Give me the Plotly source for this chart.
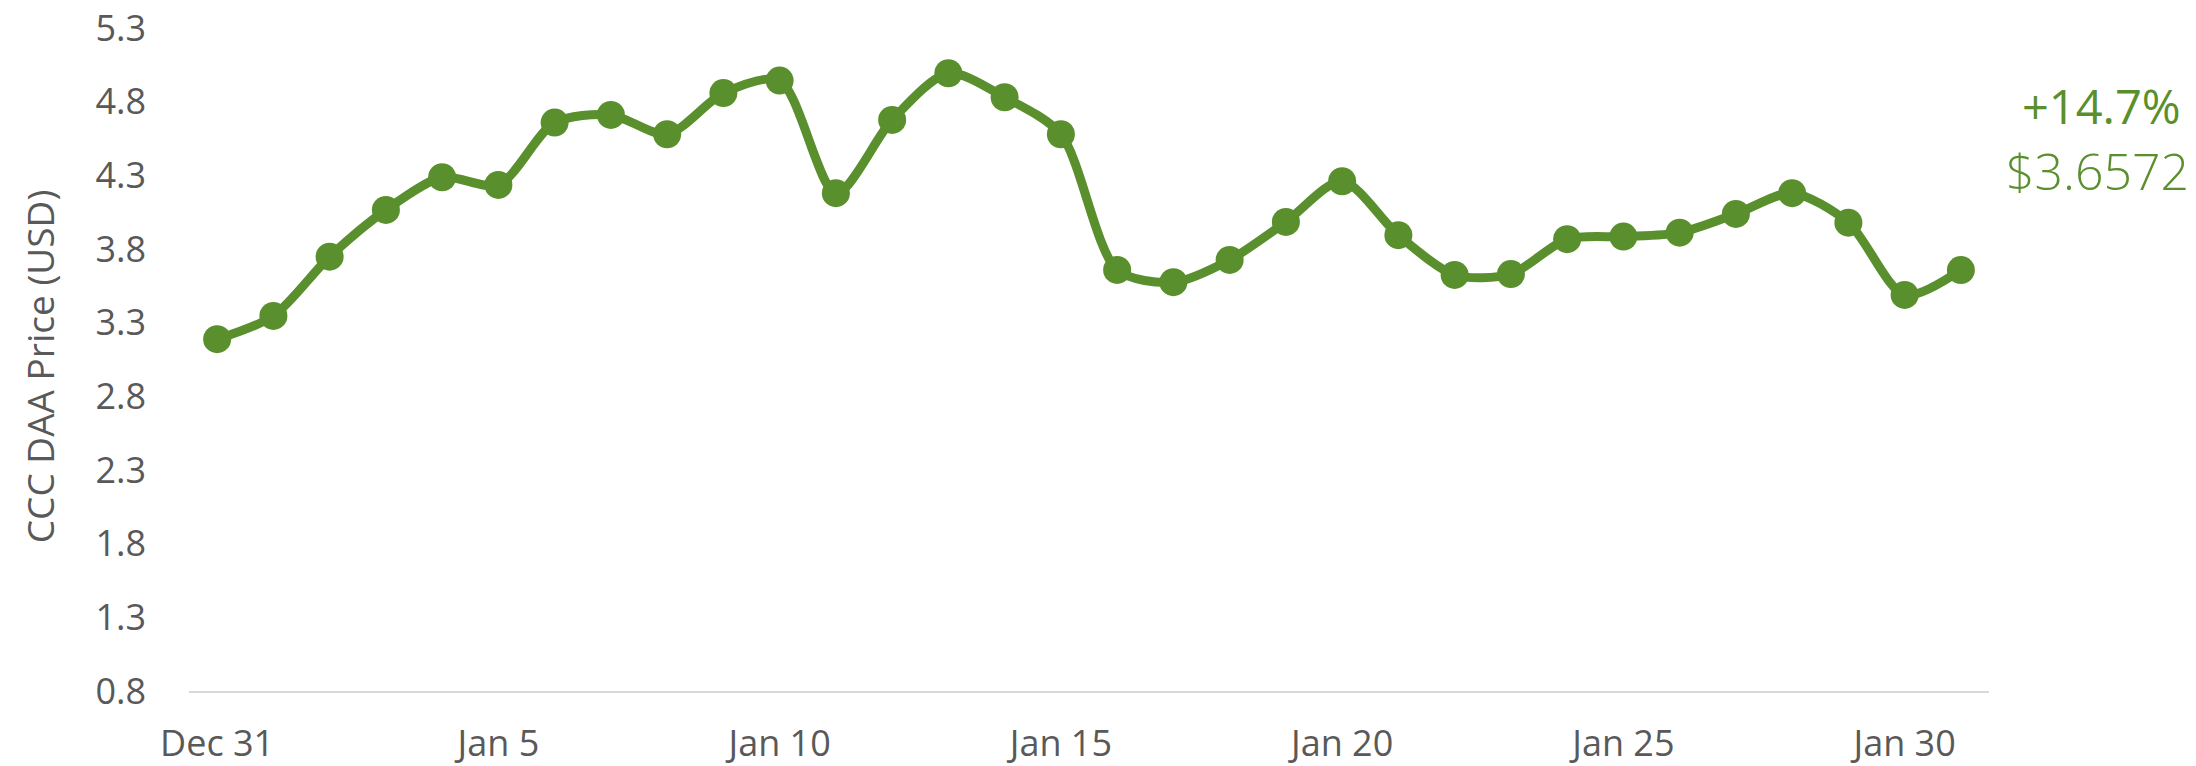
import plotly.graph_objects as go
import pandas as pd

dates = pd.date_range("2024-12-31", "2025-01-31", freq="D")
prices = [3.188, 3.346, 3.748, 4.065, 4.287, 4.235, 4.658, 4.710, 4.579, 4.858,
          4.943, 4.179, 4.676, 4.993, 4.830, 4.579, 3.658, 3.575, 3.726, 3.984,
          4.260, 3.894, 3.624, 3.630, 3.867, 3.884, 3.911, 4.038, 4.179, 3.979,
          3.488, 3.6572]
tick_dates = ["2024-12-31", "2025-01-05", "2025-01-10", "2025-01-15",
              "2025-01-20", "2025-01-25", "2025-01-30"]
tick_labels = ["Dec 31", "Jan 5", "Jan 10", "Jan 15", "Jan 20", "Jan 25", "Jan 30"]
y_ticks = [0.8, 1.3, 1.8, 2.3, 2.8, 3.3, 3.8, 4.3, 4.8, 5.3]
y_title = "CCC DAA Price (USD)"
change_text = "+14.7%"
price_text = "$3.6572"

GREEN = "#5A8F2D"
GREY = "#595959"
FONT = "Open Sans, Noto Sans, sans-serif"

fig = go.Figure()
fig.add_trace(go.Scatter(
    x=dates, y=prices, mode="lines+markers",
    line=dict(color=GREEN, width=9, shape="spline", smoothing=0.8),
    marker=dict(color=GREEN, size=28),
    hoverinfo="skip", showlegend=False,
))

fig.update_layout(
    width=2196, height=766,
    margin=dict(l=189, r=207, t=28, b=75),
    plot_bgcolor="white", paper_bgcolor="white",
    font=dict(family=FONT, color=GREY, size=36),
    xaxis=dict(
        range=["2024-12-30 12:00", "2025-01-31 12:00"],
        tickvals=tick_dates, ticktext=tick_labels,
        showgrid=False, zeroline=False, automargin=False,
        showline=True, linecolor="#D9D9D9", linewidth=2,
        ticks="", ticklabelstandoff=20,
        tickfont=dict(family=FONT, size=36, color=GREY),
    ),
    yaxis=dict(
        range=[0.8, 5.3], tickvals=y_ticks,
        ticktext=[f"{v:.1f}" for v in y_ticks],
        showgrid=False, zeroline=False, showline=False, automargin=False,
        ticks="", ticklabelstandoff=42,
        tickfont=dict(family=FONT, size=36, color=GREY),
    ),
)

fig.add_annotation(x=-0.0833, y=0.49, xref="paper", yref="paper",
                   text=y_title, textangle=-90, showarrow=False,
                   xanchor="center", yanchor="middle",
                   font=dict(family=FONT, size=37, color=GREY))
fig.add_annotation(x=1.108, y=0.882, xref="paper", yref="paper",
                   text=change_text, showarrow=False, xanchor="right", yanchor="middle",
                   font=dict(family=FONT, size=47, color=GREEN))
fig.add_annotation(x=1.112, y=0.784, xref="paper", yref="paper",
                   text=price_text, showarrow=False, xanchor="right", yanchor="middle",
                   font=dict(family=FONT, size=50, color=GREEN, weight=300))

fig.write_html("out.html", config={"displayModeBar": False},
               post_script="document.body.style.margin='0';document.body.style.overflow='hidden';")
